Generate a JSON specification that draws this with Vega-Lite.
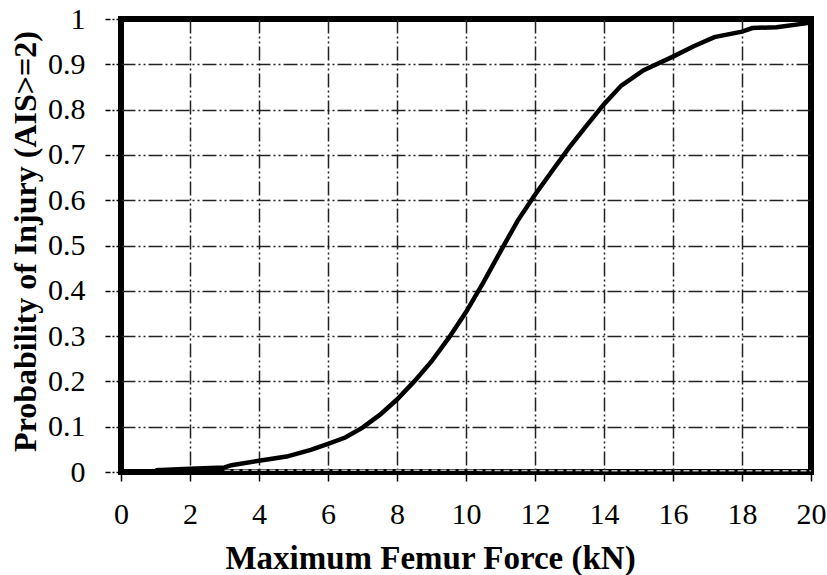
{
  "$schema": "https://vega.github.io/schema/vega-lite/v6.json",
  "autosize": "none",
  "width": 690,
  "height": 453,
  "padding": {"left": 121, "top": 19, "right": 16, "bottom": 103},
  "background": "white",
  "config": {
    "view": {"stroke": "black", "strokeWidth": 6},
    "font": "Liberation Serif",
    "axis": {
      "labelFont": "Liberation Serif",
      "titleFont": "Liberation Serif",
      "labelColor": "black",
      "titleColor": "black",
      "labelFontSize": 30,
      "titleFontSize": 33,
      "titleFontWeight": "bold",
      "domain": false,
      "tickColor": "black",
      "gridColor": "#222",
      "gridWidth": 1.5,
      "gridDash": [14, 3, 2, 3, 2, 3]
    }
  },
  "layer": [
    {
      "data": {"values": [
        {"force": 3, "p": 0.004}, {"force": 8, "p": 0.004}, {"force": 14, "p": 0.003}, {"force": 20, "p": 0.003}
      ]},
      "mark": {"type": "line", "color": "#bbbbbb", "strokeWidth": 1.5, "strokeDash": [6, 3]},
      "encoding": {
        "x": {"field": "force", "type": "quantitative"},
        "y": {"field": "p", "type": "quantitative"}
      }
    },
    {
      "data": {"values": [
        {"force": 1.0, "p": 0.004},
        {"force": 2.0, "p": 0.007},
        {"force": 3.0, "p": 0.010},
        {"force": 3.2, "p": 0.015},
        {"force": 4.0, "p": 0.025},
        {"force": 4.8, "p": 0.034},
        {"force": 5.5, "p": 0.049},
        {"force": 6.0, "p": 0.062},
        {"force": 6.5, "p": 0.076},
        {"force": 7.0, "p": 0.098},
        {"force": 7.5, "p": 0.126},
        {"force": 8.0, "p": 0.160},
        {"force": 8.5, "p": 0.200},
        {"force": 9.0, "p": 0.244},
        {"force": 9.5, "p": 0.296},
        {"force": 10.0, "p": 0.353},
        {"force": 10.5, "p": 0.418},
        {"force": 11.0, "p": 0.487},
        {"force": 11.5, "p": 0.555},
        {"force": 12.0, "p": 0.612},
        {"force": 12.5, "p": 0.665},
        {"force": 13.0, "p": 0.717},
        {"force": 13.5, "p": 0.765},
        {"force": 14.0, "p": 0.812},
        {"force": 14.5, "p": 0.853},
        {"force": 15.15, "p": 0.887},
        {"force": 16.0, "p": 0.917},
        {"force": 16.6, "p": 0.940},
        {"force": 17.2, "p": 0.960},
        {"force": 18.0, "p": 0.972},
        {"force": 18.3, "p": 0.980},
        {"force": 19.0, "p": 0.982},
        {"force": 20.0, "p": 0.992}
      ]},
      "mark": {"type": "line", "color": "black", "strokeWidth": 4.5},
      "encoding": {
        "x": {
          "field": "force", "type": "quantitative",
          "scale": {"domain": [0, 20], "nice": false, "zero": false},
          "axis": {
            "title": "Maximum Femur Force (kN)",
            "values": [0,1,2,3,4,5,6,7,8,9,10,11,12,13,14,15,16,17,18,19,20],
            "labelExpr": "datum.value % 2 === 0 ? datum.label : ''",
            "gridOpacity": {"condition": {"test": "datum.value % 2 === 0 && datum.value > 0 && datum.value < 20", "value": 1}, "value": 0},
            "tickSize": 9,
            "tickWidth": 1.5,
            "labelPadding": 18,
            "labelFlush": false,
            "titleX": 309,
            "titleY": 96,
            "titleBaseline": "alphabetic",
            "titleAnchor": "middle",
            "titleAlign": "center"
          }
        },
        "y": {
          "field": "p", "type": "quantitative",
          "scale": {"domain": [0, 1], "nice": false},
          "axis": {
            "title": "Probability of Injury (AIS>=2)",
            "titleFontSize": 32,
            "values": [0, 0.1, 0.2, 0.3, 0.4, 0.5, 0.6, 0.7, 0.8, 0.9, 1],
            "format": "~g",
            "gridOpacity": {"condition": {"test": "datum.value > 0 && datum.value < 1", "value": 1}, "value": 0},
            "tickSize": 16,
            "tickWidth": 1.5,
            "tickDash": [5, 2, 2, 2],
            "labelPadding": 20,
            "labelFlush": false,
            "titleX": -96,
            "titleY": 222,
            "titleBaseline": "middle",
            "titleAlign": "center",
            "titleAnchor": "middle"
          }
        }
      }
    }
  ]
}
